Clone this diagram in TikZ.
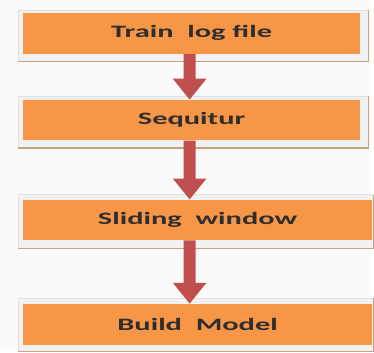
\documentclass[tikz,border=0pt]{standalone}
\usepackage{fontspec}
\usepackage{tikz}
\usetikzlibrary{calc}
\newfontfamily\stepfont[FakeStretch=1.75]{Carlito}
\definecolor{boxorange}{HTML}{F79646}
\definecolor{arrowred}{HTML}{C0504D}
\definecolor{panelgray}{HTML}{F1F1F1}
\definecolor{shadowtan}{HTML}{C9A27E}
% block arrow from the bottom of #1 to the top of #2, on the vertical line through (axis)
\def\fatarrow(#1)(#2){\fill[arrowred] ($(#1.south -| axis)+(-6,0)$) -- ($(#2.north -| axis)+(-6,-21)$) -- ($(#2.north -| axis)+(-17,-21)$) -- (#2.north -| axis) -- ($(#2.north -| axis)+(17,-21)$) -- ($(#2.north -| axis)+(6,-21)$) -- ($(#1.south -| axis)+(6,0)$) -- cycle;}
\def\panel(#1,#2,#3,#4){\filldraw[panelgray, draw=black!12, line width=0.6pt] (#1,#2) rectangle (#3,#4);
	\draw[shadowtan, line width=1.4pt] (#1,#4) -- (#3,#4) -- (#3,#2);}

\begin{document}
\begin{tikzpicture}[x=1pt, y=-1pt,
	stepbox/.style={fill=boxorange, minimum height=41pt, inner sep=0pt,
		font=\stepfont\bfseries\fontsize{17.5}{20}\selectfont, text=black!82}]
			%%%%% START %%%%%
			
			\fill[white!98!black] (0, 0) rectangle (374, 352);
			
			\panel(18, 10, 371, 62)
			\panel(18, 97, 371, 149)
			\panel(18, 196, 376, 250)
			\panel(18, 300, 376, 354)
			
			\node[stepbox, minimum width=340pt] (train) at (193, 33.5) {Train~~log file};
			\node[stepbox, minimum width=340pt] (sequitur) at (193, 121) {Sequitur};
			\node[stepbox, minimum width=352pt] (sliding) at (199, 221.5) {Sliding~~window};
			\node[stepbox, minimum width=352pt] (model) at (199, 326.5) {Build~~Model};
			
			\coordinate (axis) at (191, 0);
			\fatarrow(train)(sequitur)
			\fatarrow(sequitur)(sliding)
			\fatarrow(sliding)(model)
			
			\useasboundingbox (0, 0) rectangle (374, 352);
			
			%%%%% END %%%%%
		\end{tikzpicture}
\end{document}
